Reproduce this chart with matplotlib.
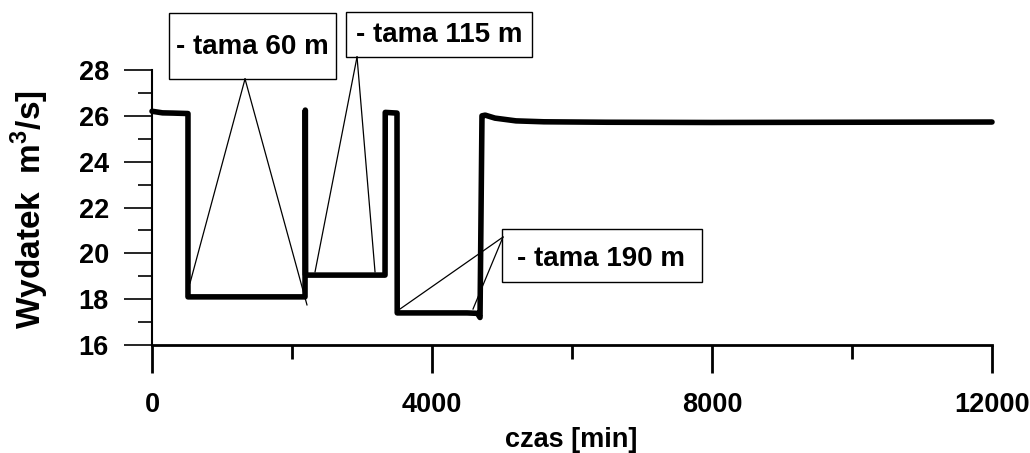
import matplotlib
matplotlib.use("Agg")
import matplotlib.pyplot as plt
from matplotlib.patches import Rectangle
from matplotlib.ticker import MultipleLocator

# Discharge vs time
czas = [0, 150, 300, 514, 514, 1200, 1800, 2186, 2190, 2195, 2700, 3329, 3332, 3500, 3503,
        4000, 4500, 4650, 4686, 4714, 4760, 4900, 5200, 5600, 6500, 8000, 10000, 12000]
wydatek = [26.2, 26.13, 26.12, 26.1, 18.1, 18.1, 18.1, 18.1, 26.25, 19.05, 19.05, 19.05, 26.15, 26.12, 17.4,
           17.4, 17.4, 17.38, 17.2, 26.0, 26.03, 25.9, 25.78, 25.74, 25.72, 25.71, 25.72, 25.73]

labels = ["- tama 60 m", "- tama 115 m", "- tama 190 m"]
# box corners (x0, y0, x1, y1) and text anchor, in data units
boxes = [(243, 27.61, 2629, 30.49), (2771, 28.57, 5429, 30.53), (5000, 18.75, 7857, 21.06)]
text_xy = [(1436, 29.0), (4100, 29.52), (6414, 19.75)]
# callout lines: apex on the box -> points on the curve
apex = [(1329, 27.61), (2929, 28.57), (5014, 20.71)]
targets = [[(543, 18.7), (2214, 17.75)],
           [(2329, 19.19), (3186, 19.19)],
           [(3543, 17.57), (4586, 17.57)]]

plt.rcParams["font.family"] = ["Liberation Sans", "DejaVu Sans"]
plt.rcParams["font.weight"] = "bold"
plt.rcParams["mathtext.fontset"] = "custom"
plt.rcParams["mathtext.rm"] = "Liberation Sans:bold"
plt.rcParams["mathtext.bf"] = "Liberation Sans:bold"

fig = plt.figure(figsize=(10.3, 4.53), dpi=100)
ax = fig.add_axes([152 / 1030, 1 - 345 / 453, 840 / 1030, 275 / 453])

ax.plot(czas, wydatek, color="black", linewidth=4.0, solid_capstyle="round",
        solid_joinstyle="round", clip_on=False, zorder=3)

ax.set_xlim(0, 12000)
ax.set_ylim(16, 28)

for (x0, y0, x1, y1), lab, (tx, ty) in zip(boxes, labels, text_xy):
    r = Rectangle((x0, y0), x1 - x0, y1 - y0, facecolor="white", edgecolor="black",
                  linewidth=1.0, clip_on=False, zorder=4)
    ax.add_patch(r)
    ax.text(tx, ty, lab, fontsize=20, fontweight="bold", ha="center", va="center",
            zorder=5, clip_on=False)

for (ax_x, ax_y), tgts in zip(apex, targets):
    for (px, py) in tgts:
        ax.plot([ax_x, px], [ax_y, py], color="black", linewidth=0.9, clip_on=False, zorder=4)

ax.spines["top"].set_visible(False)
ax.spines["right"].set_visible(False)
ax.spines["left"].set_linewidth(1.5)
ax.spines["bottom"].set_linewidth(2.0)

ax.xaxis.set_major_locator(MultipleLocator(4000))
ax.xaxis.set_minor_locator(MultipleLocator(2000))
ax.yaxis.set_major_locator(MultipleLocator(2))
ax.yaxis.set_minor_locator(MultipleLocator(1))
ax.tick_params(axis="x", which="major", direction="out", length=20, width=2, pad=14, labelsize=19.5)
ax.tick_params(axis="x", which="minor", direction="out", length=10, width=2)
ax.tick_params(axis="y", which="major", direction="out", length=20, width=1.2, pad=11, labelsize=19.5)
ax.tick_params(axis="y", which="minor", direction="out", length=10, width=1.2)
for lbl in ax.get_xticklabels() + ax.get_yticklabels():
    lbl.set_fontweight("bold")

fig.text(30 / 1030, 1 - 210 / 453, "Wydatek  m$^{3}$/s]", rotation=90, fontsize=24,
         fontweight="bold", ha="center", va="center")
fig.text(571 / 1030, 1 - 440 / 453, "czas [min]", fontsize=19.5, fontweight="bold",
         ha="center", va="center")

fig.savefig("out.png", dpi=100)
